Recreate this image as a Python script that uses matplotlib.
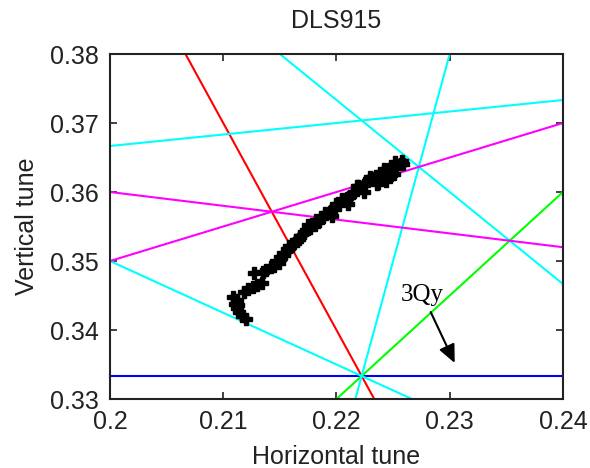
import numpy as np
import matplotlib
matplotlib.use("Agg")
import matplotlib.pyplot as plt

plt.rcParams['font.family'] = ['Liberation Sans', 'DejaVu Sans']

# Measured tune points (Qx, Qy)
qx = [0.2109, 0.2112, 0.2110, 0.2112, 0.2114, 0.2117, 0.2120, 0.2113,
      0.2118, 0.2122, 0.2126, 0.2130, 0.2134, 0.2127,
      0.2135, 0.2138, 0.2142, 0.2145, 0.2149, 0.2147, 0.2151, 0.2154,
      0.2157, 0.2159, 0.2162, 0.2165, 0.2167, 0.2153, 0.2158, 0.2164, 0.2168,
      0.2171, 0.2173, 0.2177, 0.2181, 0.2184, 0.2182, 0.2188, 0.2191,
      0.2195, 0.2198, 0.2202, 0.2200, 0.2205, 0.2209, 0.2212, 0.2215,
      0.2218, 0.2221, 0.2219, 0.2225, 0.2228, 0.2232, 0.2235, 0.2239,
      0.2242, 0.2246, 0.2250, 0.2253, 0.2257, 0.2259, 0.2237, 0.2244, 0.2251,
      0.2175, 0.2190, 0.2205, 0.2218, 0.2230, 0.2242, 0.2252, 0.2258,
      0.2196, 0.2210, 0.2224, 0.2236, 0.2248]
qy = [0.3448, 0.3443, 0.3438, 0.3432, 0.3426, 0.3420, 0.3416, 0.3436,
      0.3455, 0.3459, 0.3462, 0.3465, 0.3468, 0.3483,
      0.3484, 0.3487, 0.3491, 0.3493, 0.3497, 0.3500, 0.3504, 0.3509,
      0.3516, 0.3520, 0.3525, 0.3529, 0.3532, 0.3512, 0.3522, 0.3530, 0.3536,
      0.3541, 0.3545, 0.3548, 0.3552, 0.3557, 0.3559, 0.3564, 0.3568,
      0.3572, 0.3577, 0.3581, 0.3583, 0.3588, 0.3591, 0.3594, 0.3599,
      0.3603, 0.3607, 0.3609, 0.3613, 0.3616, 0.3620, 0.3623, 0.3626,
      0.3630, 0.3633, 0.3636, 0.3639, 0.3641, 0.3641, 0.3613, 0.3616, 0.3626,
      0.3552, 0.3570, 0.3590, 0.3608, 0.3622, 0.3634, 0.3643, 0.3645,
      0.3565, 0.3582, 0.3600, 0.3612, 0.3624]

# Resonance lines m*Qx + n*Qy = p
res_m = [0, 3, 3, 3, 6, 4, 1, 2, 1]
res_n = [3, 1, -2, 4, -1, 3, -6, -4, 5]
res_p = [1, 1, 0, 2, 1, 2, -2, -1, 2]
res_colors = ['#0000ff', '#ff0000', '#00ff00', '#00ffff', '#00ffff',
              '#00ffff', '#00ffff', '#ff00ff', '#ff00ff']

xticks = [0.2, 0.21, 0.22, 0.23, 0.24]
xticklabels = ['0.2', '0.21', '0.22', '0.23', '0.24']
yticks = [0.33, 0.34, 0.35, 0.36, 0.37, 0.38]
yticklabels = ['0.33', '0.34', '0.35', '0.36', '0.37', '0.38']

fig = plt.figure(figsize=(5.9, 4.68), dpi=100)
ax = fig.add_axes([0.1864, 0.1474, 0.7678, 0.7372])

qxs = np.linspace(0.19, 0.25, 400)
for m, n, p, c in zip(res_m, res_n, res_p, res_colors):
    ax.plot(qxs, (p - m * qxs) / n, color=c, lw=1.5)

ax.plot(qx, qy, linestyle='none', marker='P', ms=8.5, color='black', mec='black')

ax.text(0.2257, 0.3442, '3Qy', family=['Liberation Serif', 'DejaVu Serif'],
        fontsize=18, ha='left', va='baseline')
ax.annotate('', xy=(0.23044, 0.33522), xytext=(0.22832, 0.3426),
            arrowprops=dict(arrowstyle='-|>,head_length=1.1,head_width=0.5',
                            color='black', lw=1.5, shrinkA=0, shrinkB=0,
                            mutation_scale=10))

ax.set_xlim(0.2, 0.24)
ax.set_ylim(0.33, 0.38)
ax.set_xticks(xticks)
ax.set_xticklabels(xticklabels)
ax.set_yticks(yticks)
ax.set_yticklabels(yticklabels)
ax.tick_params(direction='in', top=True, right=True, length=5, width=1.2,
               labelsize=18, pad=8, colors='#222222')
for s in ax.spines.values():
    s.set_linewidth(1.5)
    s.set_color('#222222')
ax.set_title('DLS915', fontsize=18, pad=19, color='#222222')
ax.set_xlabel('Horizontal tune', fontsize=18, color='#222222', labelpad=8)
ax.set_ylabel('Vertical tune', fontsize=18, color='#222222', labelpad=8)

fig.savefig('out.png', dpi=100)
